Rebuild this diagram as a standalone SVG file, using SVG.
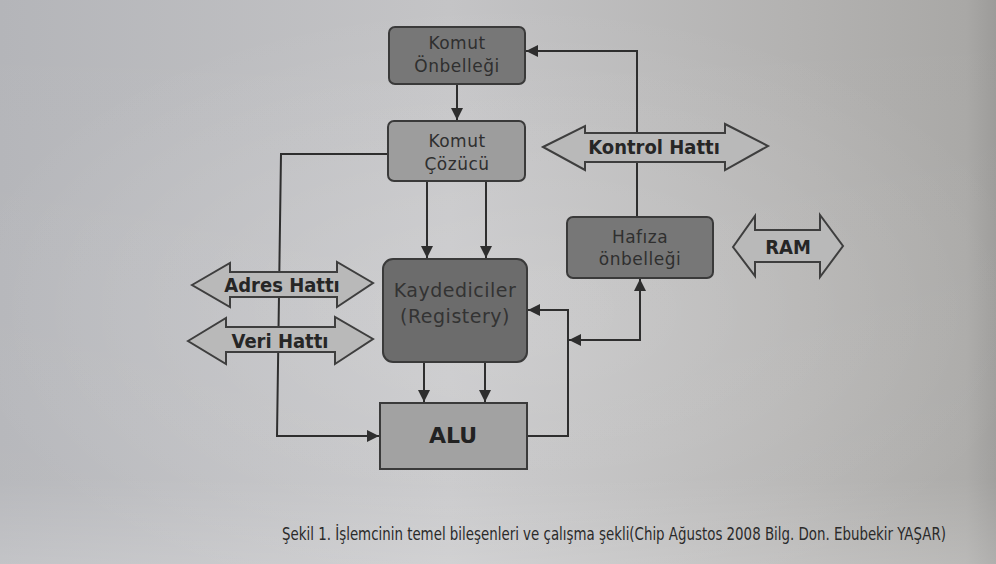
<svg xmlns="http://www.w3.org/2000/svg" width="996" height="564" viewBox="0 0 996 564">
  <defs>
    <linearGradient id="bg" x1="0" y1="0" x2="1" y2="0">
      <stop offset="0" stop-color="#b4b5b9"/>
      <stop offset="0.45" stop-color="#c4c4c6"/>
      <stop offset="0.8" stop-color="#b3b2b1"/>
      <stop offset="0.97" stop-color="#a9a8a6"/>
      <stop offset="1" stop-color="#9c9b99"/>
    </linearGradient>
    <linearGradient id="vshade" x1="0" y1="0" x2="0" y2="1">
      <stop offset="0" stop-color="#ffffff" stop-opacity="0"/>
      <stop offset="0.85" stop-color="#ffffff" stop-opacity="0.05"/>
      <stop offset="1" stop-color="#ffffff" stop-opacity="0.2"/>
    </linearGradient>
    <radialGradient id="glow" cx="0.5" cy="0.55" r="0.55">
      <stop offset="0" stop-color="#ffffff" stop-opacity="0.18"/>
      <stop offset="1" stop-color="#ffffff" stop-opacity="0"/>
    </radialGradient>
    <marker id="ah" viewBox="0 0 10 10" refX="10" refY="5" markerWidth="12" markerHeight="12" markerUnits="userSpaceOnUse" orient="auto">
      <path d="M0,0 L10,5 L0,10 Z" fill="#2e2e2e"/>
    </marker>
    <marker id="ahs" viewBox="0 0 10 10" refX="0" refY="5" markerWidth="12" markerHeight="12" markerUnits="userSpaceOnUse" orient="auto">
      <path d="M10,0 L0,5 L10,10 Z" fill="#2e2e2e"/>
    </marker>
  </defs>
  <style>
    .box { stroke: #3a3a3a; stroke-width: 2; }
    .dark { fill: #777777; }
    .mid { fill: #9d9d9d; }
    .kay { fill: #6c6c6c; }
    .alu { fill: #a2a2a2; }
    .btxt { font-family: "DejaVu Sans", "Liberation Sans", sans-serif; font-size: 17px; fill: #2f2f2f; text-anchor: middle; letter-spacing: 0.5px; }
    .ktxt { font-family: "DejaVu Sans", "Liberation Sans", sans-serif; font-size: 19px; fill: #333333; text-anchor: middle; letter-spacing: 0.5px; }
    .bus { fill: #b9b9b9; stroke: #3e3e3e; stroke-width: 2; stroke-linejoin: miter; }
    .ltxt { font-family: "DejaVu Sans Condensed", "DejaVu Sans", sans-serif; font-stretch: condensed; font-weight: bold; font-size: 20px; fill: #262626; text-anchor: middle; }
    .conn { fill: none; stroke: #2e2e2e; stroke-width: 2; }
    .cap { font-family: "DejaVu Sans Condensed", "DejaVu Sans", sans-serif; font-stretch: condensed; font-size: 17px; fill: #2a2a2a; text-anchor: middle; }
  </style>

  <rect x="0" y="0" width="996" height="564" fill="url(#bg)"/>
  <rect x="0" y="0" width="996" height="564" fill="url(#glow)"/>
  <rect x="0" y="0" width="996" height="564" fill="url(#vshade)"/>

  <g id="connectors">
    <line class="conn" x1="457" y1="85" x2="457" y2="120" marker-end="url(#ah)"/>
    <polyline class="conn" points="388,154 281,154 277,436 379,436" marker-end="url(#ah)"/>
    <line class="conn" x1="427" y1="181" x2="427" y2="258" marker-end="url(#ah)"/>
    <line class="conn" x1="486" y1="181" x2="486" y2="258" marker-end="url(#ah)"/>
    <line class="conn" x1="424" y1="362" x2="424" y2="402" marker-end="url(#ah)"/>
    <line class="conn" x1="485" y1="362" x2="485" y2="402" marker-end="url(#ah)"/>
    <polyline class="conn" points="527,436 568,436 568,310 528,310" marker-end="url(#ah)"/>
    <polyline class="conn" points="569,340 640,340 640,279" marker-start="url(#ahs)" marker-end="url(#ah)"/>
    <polyline class="conn" points="637,217 637,51 526,51" marker-end="url(#ah)"/>
  </g>

  <g id="komut-onbellegi">
    <rect class="box dark" x="389" y="27" width="136" height="57" rx="6"/>
    <text class="btxt" x="457" y="49">Komut</text>
    <text class="btxt" x="457" y="72">Önbelleği</text>
  </g>

  <g id="komut-cozucu">
    <rect class="box mid" x="388" y="121" width="137" height="60" rx="6"/>
    <text class="btxt" x="457" y="147">Komut</text>
    <text class="btxt" x="457" y="170">Çözücü</text>
  </g>

  <g id="kaydediciler">
    <rect class="box kay" x="383" y="259" width="144" height="103" rx="10"/>
    <text class="ktxt" x="455" y="297">Kaydediciler</text>
    <text class="ktxt" x="455" y="323">(Registery)</text>
  </g>

  <g id="alu">
    <rect class="box alu" x="380" y="403" width="147" height="66"/>
    <text x="453" y="443" font-family="DejaVu Sans, sans-serif" font-weight="bold" font-size="22" fill="#222" text-anchor="middle">ALU</text>
  </g>

  <g id="hafiza-onbellegi">
    <rect class="box dark" x="567" y="217" width="146" height="61" rx="6"/>
    <text class="btxt" x="640" y="243">Hafıza</text>
    <text class="btxt" x="640" y="265">önbelleği</text>
  </g>

  <g id="kontrol-hatti">
    <polygon class="bus" points="543,147 585,126 585,133 725,133 725,124 768,146 725,170 725,162 585,162 585,170"/>
    <text class="ltxt" x="654" y="154">Kontrol Hattı</text>
  </g>

  <g id="ram">
    <polygon class="bus" points="733,247 755,216 755,230 820,230 820,215 843,246 820,277 820,262 755,262 755,276"/>
    <text class="ltxt" x="788" y="254" font-size="18">RAM</text>
  </g>

  <g id="adres-hatti">
    <polygon class="bus" points="192,285 230,263 230,272 337,272 337,262 373,283 337,307 337,297 230,297 230,307"/>
    <text class="ltxt" x="282" y="292">Adres Hattı</text>
  </g>

  <g id="veri-hatti">
    <polygon class="bus" points="188,341 226,318 226,327 335,327 335,317 373,339 335,364 335,352 226,352 226,364"/>
    <text class="ltxt" x="280" y="348">Veri Hattı</text>
  </g>

  <text class="cap" transform="translate(614,540) scale(0.875,1)" x="0" y="0">Şekil 1. İşlemcinin temel bileşenleri ve çalışma şekli(Chip Ağustos 2008 Bilg. Don. Ebubekir YAŞAR)</text>
</svg>
